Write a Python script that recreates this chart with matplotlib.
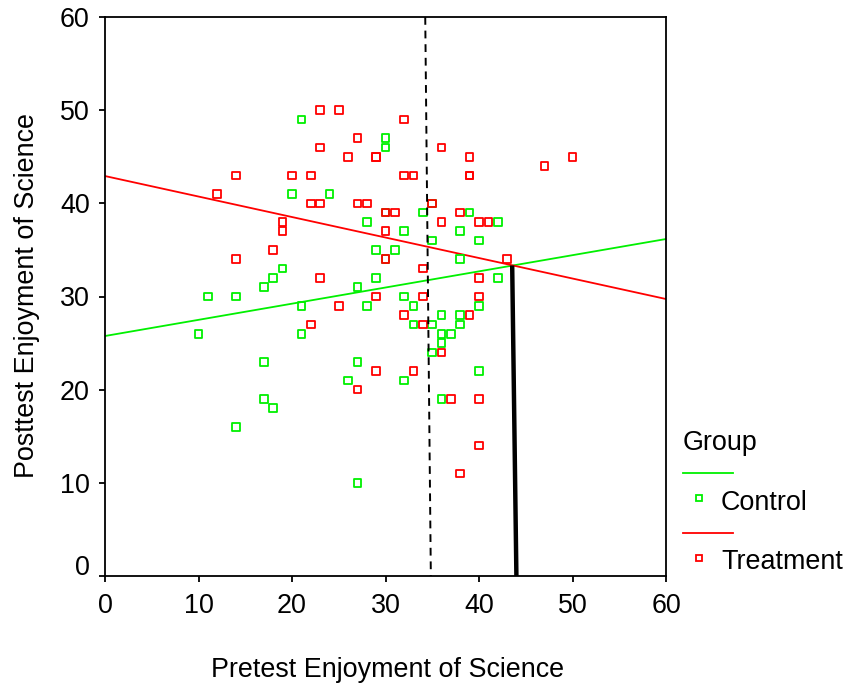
import matplotlib
matplotlib.use("Agg")
import matplotlib.pyplot as plt
import matplotlib.transforms as mtransforms
from matplotlib.lines import Line2D
import numpy as np

plt.rcParams['font.family'] = ['Liberation Sans', 'DejaVu Sans']

# ---- data ----
control_x = [10, 11, 14, 14, 17, 17, 17, 18, 18, 19, 20, 21, 21, 21, 24, 26, 27, 27, 27, 28,
             28, 29, 29, 30, 30, 30, 30, 31, 32, 32, 32, 33, 33, 34, 35, 35, 35, 35, 36, 36,
             36, 36, 37, 38, 38, 38, 38, 39, 40, 40, 40, 42, 42]
control_y = [26, 30, 30, 16, 31, 23, 19, 32, 18, 33, 41, 49, 29, 26, 41, 21, 31, 23, 10, 29,
             38, 35, 32, 47, 46, 39, 34, 35, 37, 30, 21, 29, 27, 39, 40, 36, 27, 24, 28, 26,
             25, 19, 26, 37, 34, 28, 27, 39, 36, 29, 22, 38, 32]

treat_x = [12, 14, 14, 18, 19, 19, 20, 22, 22, 22, 23, 23, 23, 23, 25, 25, 26, 27, 27, 27,
           28, 29, 29, 29, 29, 30, 30, 30, 31, 32, 32, 32, 33, 33, 34, 34, 34, 35, 36, 36,
           36, 37, 38, 38, 39, 39, 39, 39, 40, 40, 40, 40, 40, 41, 43, 47, 50]
treat_y = [41, 43, 34, 35, 38, 37, 43, 43, 40, 27, 50, 46, 40, 32, 50, 29, 45, 47, 40, 20,
           40, 45, 45, 30, 22, 39, 37, 34, 39, 49, 43, 28, 43, 22, 33, 30, 27, 40, 46, 38,
           24, 19, 39, 11, 45, 43, 43, 28, 38, 32, 30, 19, 14, 38, 34, 44, 45]

# fitted lines (intercept, slope)
control_fit = (25.76, 0.1735)
treat_fit = (42.93, -0.220)

# reference lines
cutoff_x = [34.25, 34.85]      # dashed line (top, bottom)
cutoff_y = [60, 0]
gap_x = [43.55, 44.0]          # thick line from intersection to bottom
GREEN = '#00f000'
RED = '#ff0000'

x_ticks = [0, 10, 20, 30, 40, 50, 60]
y_ticks = [0, 10, 20, 30, 40, 50, 60]

# ---- figure ----
W, H = 847, 688
fig = plt.figure(figsize=(W / 100, H / 100), dpi=100)
ax = fig.add_axes([105 / W, 1 - 576 / H, (666 - 105) / W, (576 - 17) / H])

FS = 19.4

ax.scatter(control_x, control_y, marker='s', s=30, facecolors='none',
           edgecolors=GREEN, linewidths=1.3, zorder=3)
ax.scatter(treat_x, treat_y, marker='s', s=30, facecolors='none',
           edgecolors=RED, linewidths=1.3, zorder=3)

xs = np.array([0, 60])
ax.plot(xs, control_fit[0] + control_fit[1] * xs, color=GREEN, lw=1.3, zorder=2)
ax.plot(xs, treat_fit[0] + treat_fit[1] * xs, color=RED, lw=1.3, zorder=2)

ax.plot(cutoff_x, cutoff_y, color='black', lw=1.4, ls=(0, (4, 3)), zorder=4)

xi = (treat_fit[0] - control_fit[0]) / (control_fit[1] - treat_fit[1])
yi = control_fit[0] + control_fit[1] * xi
ax.plot(gap_x, [yi, 0], color='black', lw=3.2, zorder=4, solid_capstyle='butt')

ax.set_xlim(0, 60)
ax.set_ylim(0, 60)
ax.set_xticks(x_ticks)
ax.set_yticks(y_ticks)
ax.tick_params(direction='out', length=4, width=1.3, labelsize=FS, pad=7)
ax.tick_params(axis='x', pad=8)
for sp in ax.spines.values():
    sp.set_linewidth(1.3)

# shift y "0" label upward
lbl0 = ax.get_yticklabels()[0]
lbl0.set_transform(lbl0.get_transform() +
                   mtransforms.ScaledTranslation(0, 11 / 100, fig.dpi_scale_trans))

fig.text(388 / W, 1 - 670 / H, 'Pretest Enjoyment of Science', fontsize=FS,
         ha='center', va='center')
fig.text(27 / W, 1 - 296 / H, 'Posttest Enjoyment of Science', fontsize=FS,
         ha='center', va='center', rotation=90)

# ---- legend ----
def fx(p):
    return p / W

def fy(p):
    return 1 - p / H

fig.text(fx(683), fy(443), 'Group', fontsize=FS, ha='left', va='center')
fig.add_artist(Line2D([fx(683), fx(733)], [fy(473), fy(473)], color=GREEN, lw=1.3))
fig.add_artist(Line2D([fx(699)], [fy(498)], marker='s', ms=5, mfc='none',
                      mec=GREEN, mew=1.3, ls='none'))
fig.text(fx(721), fy(503), 'Control', fontsize=FS, ha='left', va='center')
fig.add_artist(Line2D([fx(683), fx(733)], [fy(533), fy(533)], color=RED, lw=1.3))
fig.add_artist(Line2D([fx(699)], [fy(558)], marker='s', ms=5, mfc='none',
                      mec=RED, mew=1.3, ls='none'))
fig.text(fx(721), fy(562), 'Treatment', fontsize=FS, ha='left', va='center')

fig.savefig('out.png', dpi=100)
